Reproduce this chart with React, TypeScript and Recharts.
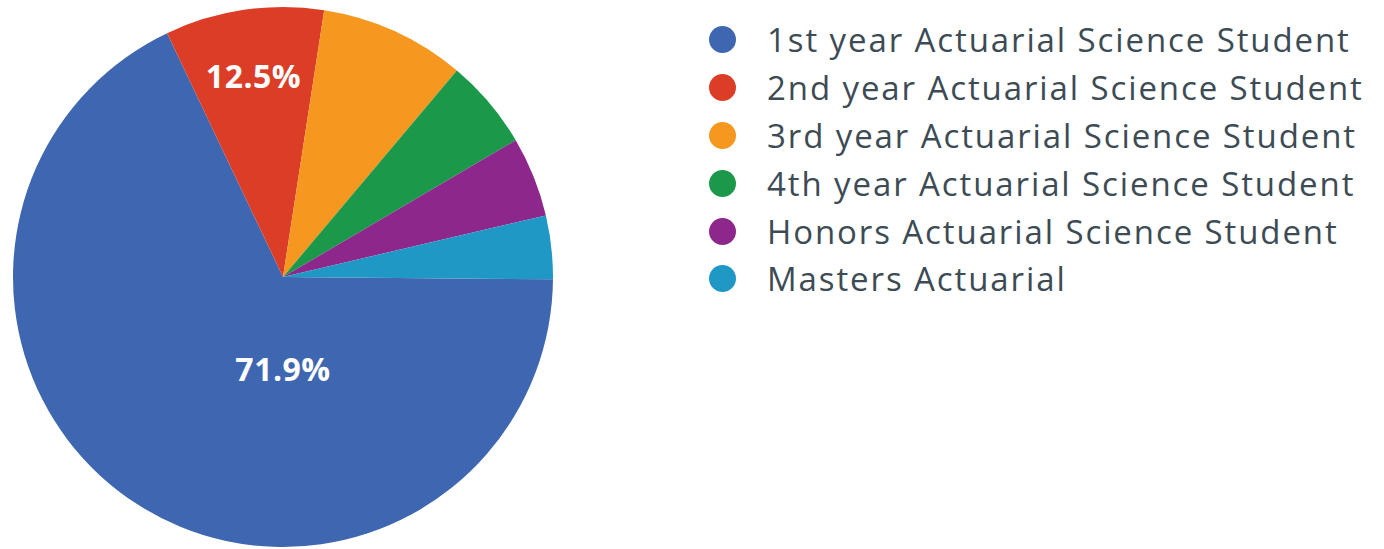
import { PieChart, Pie, Cell, Legend } from "recharts";

const categories = [
  "1st year Actuarial Science Student",
  "2nd year Actuarial Science Student",
  "3rd year Actuarial Science Student",
  "4th year Actuarial Science Student",
  "Honors Actuarial Science Student",
  "Masters Actuarial",
];
const shares = [67.8, 9.5, 8.7, 5.4, 4.8, 3.8];
const sliceLabels = ["71.9%", "12.5%", "", "", "", ""];
const colors = ["#3f67b1", "#dc3d27", "#f6971f", "#1b984a", "#8e278c", "#1f98c5"];

const data = categories.map((name, i) => ({ name, value: shares[i] }));

const RAD = Math.PI / 180;
const FONT = "'Open Sans', sans-serif";

const renderLabel = ({ cx, cy, midAngle, outerRadius, index }: any) => {
  const text = sliceLabels[index];
  if (!text) return null;
  // the big slice keeps its label just under the centre
  let x = cx;
  let y = cy + outerRadius * 0.34;
  if (index !== 0) {
    const r = outerRadius * 0.755;
    x = cx + r * Math.cos(-midAngle * RAD);
    y = cy + r * Math.sin(-midAngle * RAD);
  }
  return (
    <text x={x} y={y} fill="#fff" textAnchor="middle" dominantBaseline="central"
      style={{ fontFamily: FONT, fontWeight: 700, fontSize: 32, letterSpacing: 0.5 }}>
      {text}
    </text>
  );
};

const LegendList = () => (
  <div style={{ fontFamily: FONT }}>
    {data.map((d, i) => (
      <div key={d.name} style={{ display: "flex", alignItems: "center", height: 47.8 }}>
        <span style={{ width: 27, height: 27, borderRadius: "50%", background: colors[i], display: "inline-block", marginLeft: 9 }} />
        <span style={{ marginLeft: 31, fontSize: 33, letterSpacing: 1.9, color: "#3d4b55", whiteSpace: "nowrap" }}>{d.name}</span>
      </div>
    ))}
  </div>
);

export default function App() {
  return (
    <div style={{ position: "absolute", left: 0, top: 0, width: 1384, height: 549, background: "#fff" }}>
      <PieChart width={1384} height={549} margin={{ top: 0, right: 0, bottom: 0, left: 0 }}>
        <Pie
          data={data}
          dataKey="value"
          cx={283}
          cy={277}
          outerRadius={270}
          startAngle={-0.5}
          endAngle={-360.5}
          stroke="none"
          label={renderLabel}
          labelLine={false}
          isAnimationActive={false}
        >
          {data.map((d, i) => <Cell key={d.name} fill={colors[i]} />)}
        </Pie>
        <Legend content={<LegendList />} wrapperStyle={{ position: "absolute", left: 700, top: 16, width: 684 }} />
      </PieChart>
    </div>
  );
}
